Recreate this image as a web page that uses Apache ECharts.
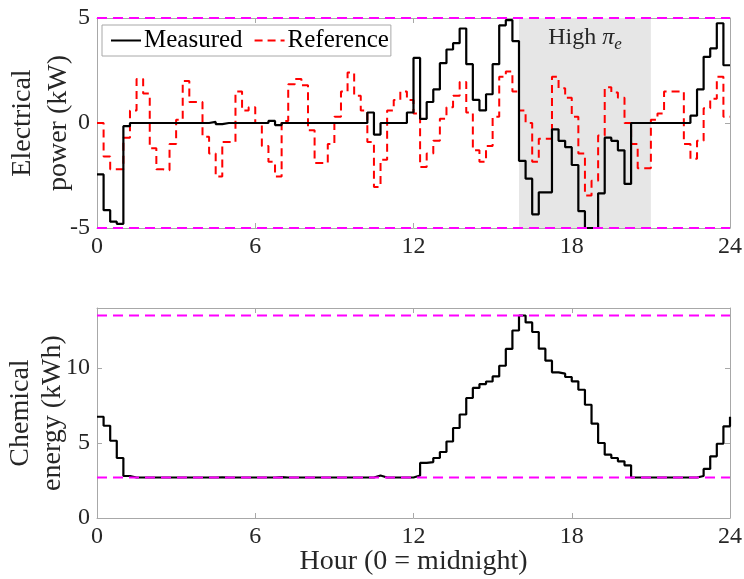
<!DOCTYPE html>
<html>
<head>
<meta charset="utf-8">
<script src="https://cdn.jsdelivr.net/npm/echarts@6/dist/echarts.min.js"></script>
<style>
html,body{margin:0;padding:0;background:#fff;}
#chart{width:744px;height:579px;}
</style>
</head>
<body>
<div id="chart"></div>
<script>
// ---- data (15-minute steps, hour 0 .. 24) ----
const stepHours = 0.25;
const xTicks = [0, 6, 12, 18, 24];
const powerTicks = [-5, 0, 5];
const energyTicks = [0, 5, 10];
const powerLimits = [-5, 5];          // kW
const energyLimits = [2.7, 13.5];     // kWh
const highPriceWindow = [16, 21];     // hours

const powerMeasured = [
  -2.45, -4.15, -4.7, -4.8, -0.15, 0, 0, 0, 0, 0, 0, 0,
  0, 0, 0, 0, 0, 0.05, -0.05, 0, 0, 0, 0, 0,
  0, 0, 0.1, -0.1, 0, 0, 0, 0, 0, 0, 0, 0,
  0, 0, 0, 0, 0, 0.5, -0.55, 0, 0, 0, 0, 0.5,
  3.1, 0.2, 1.0, 1.6, 2.85, 3.5, 3.8, 4.5, 2.8, 1.1, 0.6, 1.37,
  2.8, 4.65, 4.9, 3.9, -1.8, -2.65, -4.35, -3.3, -3.3, -0.3, -0.85, -1.15,
  -2.0, -4.2, -5, -5, -3.35, -0.7, -0.85, -1.3, -2.9, 0, 0, 0,
  0, 0, 0, 0, 0, 0, 0.35, 1.6, 3.15, 3.55, 4.75, 2.75
];
const powerReference = [
  0, -1.6, -2.2, -2.2, -0.7, 0.6, 2.1, 1.4, -1.2, -2.2, -2.25, -1.0,
  0.15, 2.0, 1.0, 1.0, -0.65, -1.45, -2.55, -0.9, -0.9, 1.5, 0.6, 0.75,
  0, -1.1, -1.85, -2.55, 0.1, 1.85, 2.1, 1.8, -0.35, -1.9, -1.9, -1.0,
  0.3, 1.5, 2.4, 1.3, 0.6, -0.9, -3.05, -1.75, 0.6, 1.1, 1.5, 1.1,
  0.45, -2.1, -1.45, -0.85, 0.2, 0.75, 1.3, 1.95, 0.5, -1.3, -1.85, -1.1,
  0.3, 2.2, 2.45, 1.5, 0.6, 0.0, -1.85, -0.75, -0.75, 2.2, 1.65, 1.2,
  0.3, -1.45, -3.45, -2.75, -0.6, 1.7, 1.45, 1.2, 0.0, -1.0, -2.15, -2.15,
  0.15, 0.45, 1.5, 1.5, 1.5, -1.0, -1.7, -0.85, 0.7, 1.15, 2.2, 0.3
];
const chemicalEnergy = [
  6.75, 6.15, 5.15, 4.0, 2.8, 2.7, 2.7, 2.7, 2.7, 2.7, 2.7, 2.7,
  2.7, 2.7, 2.7, 2.7, 2.7, 2.7, 2.71, 2.7, 2.7, 2.7, 2.7, 2.7,
  2.7, 2.7, 2.7, 2.73, 2.7, 2.7, 2.7, 2.7, 2.7, 2.7, 2.7, 2.7,
  2.7, 2.7, 2.7, 2.7, 2.7, 2.7, 2.83, 2.7, 2.7, 2.7, 2.7, 2.7,
  2.83, 3.67, 3.73, 4.0, 4.4, 5.1, 6.0, 6.9, 8.0, 8.67, 8.93, 9.1,
  9.44, 10.15, 11.27, 12.5, 13.5, 13.04, 12.4, 11.29, 10.49, 9.71, 9.62, 9.4,
  9.11, 8.55, 7.55, 6.29, 5.0, 4.22, 4.0, 3.78, 3.51, 2.7, 2.7, 2.7,
  2.7, 2.7, 2.7, 2.7, 2.7, 2.7, 2.7, 2.8, 3.27, 4.11, 4.95, 6.11,
  6.75
];

// ---- build step data ----
function stepPairs(values, closeEnd) {
  const out = values.map((v, i) => [i * stepHours, v]);
  if (closeEnd) out.push([values.length * stepHours, values[values.length - 1]]);
  return out;
}
const xMax = xTicks[xTicks.length - 1];
function hLine(v) { return [[xTicks[0], v], [xMax, v]]; }

const FONT = '"Liberation Serif", "DejaVu Serif", serif';
const AXIS_GRAY = '#a8a8a8';
const TEXT = '#262626';
const TICK_SIZE = 24;
const LABEL_SIZE = 28;

function xAxisDef(gridIndex, position, showLabels) {
  return {
    type: 'value', gridIndex, position, min: 0, max: xMax, interval: 6,
    axisLine: { show: true, onZero: false, lineStyle: { color: AXIS_GRAY, width: 1 } },
    axisTick: { show: true, inside: true, length: 5, lineStyle: { color: AXIS_GRAY } },
    axisLabel: { show: showLabels, color: TEXT, fontFamily: FONT, fontSize: TICK_SIZE, margin: 7,
      formatter: v => xTicks.includes(v) ? String(v) : '' },
    splitLine: { show: false }
  };
}
function yAxisDef(gridIndex, position, min, max, ticks, showLabels, name, gap, lh) {
  return {
    type: 'value', gridIndex, position, min, max, interval: 5,
    name: name || '', nameLocation: 'middle', nameRotate: 90, nameGap: gap || 19,
    nameMoveOverlap: false,
    nameTextStyle: { color: TEXT, fontFamily: FONT, fontSize: LABEL_SIZE, lineHeight: lh || 35, align: 'center' },
    axisLine: { show: true, onZero: false, lineStyle: { color: AXIS_GRAY, width: 1 } },
    axisTick: { show: true, inside: true, length: 5, lineStyle: { color: AXIS_GRAY } },
    axisLabel: { show: showLabels, color: TEXT, fontFamily: FONT, fontSize: TICK_SIZE, margin: 7,
      showMaxLabel: ticks.includes(max),
      formatter: v => ticks.includes(v) ? String(v) : '' },
    splitLine: { show: false }
  };
}

const option = {
  animation: false,
  backgroundColor: '#ffffff',
  grid: [
    { left: 97, right: 14, top: 18, height: 210, outerBoundsMode: 'none', containLabel: false },
    { left: 97, right: 14, top: 308, height: 210, outerBoundsMode: 'none', containLabel: false }
  ],
  xAxis: [
    xAxisDef(0, 'bottom', true),
    xAxisDef(0, 'top', false),
    Object.assign(xAxisDef(1, 'bottom', true), {
      name: 'Hour (0 = midnight)', nameLocation: 'middle', nameGap: 30, nameMoveOverlap: false,
      nameTextStyle: { color: TEXT, fontFamily: FONT, fontSize: LABEL_SIZE }
    }),
    xAxisDef(1, 'top', false)
  ],
  yAxis: [
    yAxisDef(0, 'left', powerLimits[0], powerLimits[1], powerTicks, true, 'Electrical\npower (kW)', 20, 36),
    yAxisDef(0, 'right', powerLimits[0], powerLimits[1], powerTicks, false),
    yAxisDef(1, 'left', 0, 14, energyTicks, true, 'Chemical\nenergy (kWh)', 28, 32),
    yAxisDef(1, 'right', 0, 14, energyTicks, false)
  ],
  legend: {
    left: 102, top: 25,
    orient: 'horizontal',
    data: ['Measured', 'Reference'],
    itemWidth: 30, itemHeight: 14, itemGap: 11,
    padding: [3, 2, 3, 8],
    itemStyle: { opacity: 0 },
    backgroundColor: '#ffffff',
    borderColor: '#a8a8a8', borderWidth: 1, borderRadius: 0,
    textStyle: { color: '#000', fontFamily: FONT, fontSize: 25, padding: [0, 0, 0, -2] }
  },
  series: [
    {
      name: 'Measured', type: 'line', xAxisIndex: 0, yAxisIndex: 0,
      step: 'end', symbol: 'none', z: 4,
      lineStyle: { color: '#000', width: 2.2 }, itemStyle: { color: '#000' },
      data: stepPairs(powerMeasured, true),
      markArea: {
        silent: true,
        itemStyle: { color: '#e6e6e6' },
        label: {
          show: true, position: 'insideTop', distance: 4,
          formatter: '{n|High }{pi|π}{e|e}',
          rich: {
            n: { fontFamily: FONT, fontSize: 24, color: '#262626' },
            pi: { fontFamily: FONT, fontSize: 24, fontStyle: 'italic', color: '#262626' },
            e: { fontFamily: FONT, fontSize: 17, fontStyle: 'italic', color: '#262626', padding: [14, 0, 0, 0] }
          }
        },
        data: [[{ xAxis: highPriceWindow[0] }, { xAxis: highPriceWindow[1] }]]
      }
    },
    {
      name: 'Reference', type: 'line', xAxisIndex: 0, yAxisIndex: 0,
      step: 'end', symbol: 'none', z: 3,
      lineStyle: { color: '#ff0000', width: 2, type: [8, 5] }, itemStyle: { color: '#ff0000' },
      data: stepPairs(powerReference, true)
    },
    {
      name: 'pmax', type: 'line', xAxisIndex: 0, yAxisIndex: 0, symbol: 'none', z: 5, silent: true,
      lineStyle: { color: '#ff00ff', width: 2, type: [10, 6] }, data: hLine(powerLimits[1])
    },
    {
      name: 'pmin', type: 'line', xAxisIndex: 0, yAxisIndex: 0, symbol: 'none', z: 5, silent: true,
      lineStyle: { color: '#ff00ff', width: 2, type: [10, 6] }, data: hLine(powerLimits[0])
    },
    {
      name: 'Energy', type: 'line', xAxisIndex: 2, yAxisIndex: 2,
      step: 'end', symbol: 'none', z: 4,
      lineStyle: { color: '#000', width: 2.2 },
      data: stepPairs(chemicalEnergy, false)
    },
    {
      name: 'emax', type: 'line', xAxisIndex: 2, yAxisIndex: 2, symbol: 'none', z: 5, silent: true,
      lineStyle: { color: '#ff00ff', width: 2, type: [10, 6] }, data: hLine(energyLimits[1])
    },
    {
      name: 'emin', type: 'line', xAxisIndex: 2, yAxisIndex: 2, symbol: 'none', z: 5, silent: true,
      lineStyle: { color: '#ff00ff', width: 2, type: [10, 6] }, data: hLine(energyLimits[0])
    }
  ]
};

const chart = echarts.init(document.getElementById('chart'), null, { renderer: 'canvas' });
chart.setOption(option);
</script>
</body>
</html>
